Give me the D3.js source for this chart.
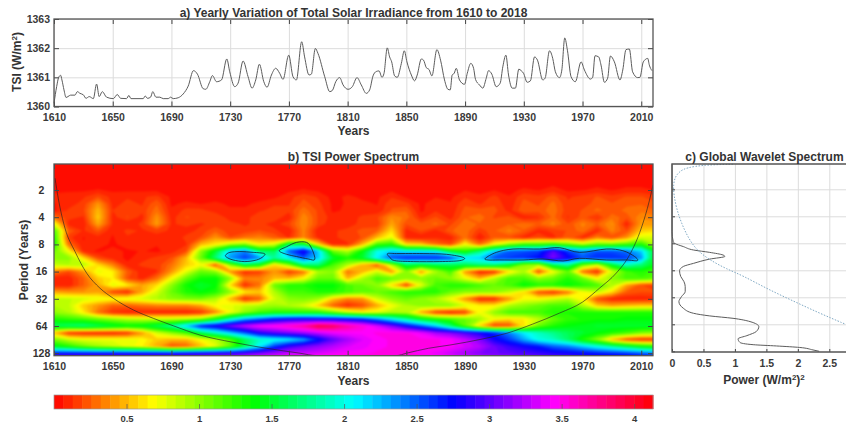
<!DOCTYPE html>
<html>
<head>
<meta charset="utf-8">
<script src="https://cdn.jsdelivr.net/npm/d3@7"></script>
<style>
body { margin: 0; background: #fff; }
text { font-family: "Liberation Sans", Arial, sans-serif; font-weight: bold; fill: #333; }
.tick text { font-size: 10.5px; fill: #3a3a3a; }
.axis .domain { display: none; }
</style>
</head>
<body>
<svg id="drawing_region"></svg>
<script>
// panel a: yearly TSI at its turning points
const tsiYears = [1610,1611.8,1613.2,1614.5,1615.4,1616.8,1618.2,1619.5,1621.3,1624.3,1625.9,1627.7,1630,1631.8,1634,1636.8,1639,1640.8,1642.9,1645.8,1650.4,1653.1,1655.4,1659.4,1661,1662.4,1670.8,1672.1,1673.7,1675.8,1677.3,1679.4,1682.1,1684.4,1687.8,1689.4,1691.2,1694.6,1698,1701.4,1705,1707.7,1711.6,1713.4,1716.1,1717.9,1720.7,1724.1,1727.7,1729.7,1733.1,1735.4,1738.8,1742.2,1744.9,1747.4,1749.9,1752.9,1755.1,1758.1,1761,1763.7,1766,1769.9,1772.8,1775.1,1778.7,1780.7,1783.7,1785.3,1788,1789.8,1794.4,1797.8,1799.6,1801.9,1804.6,1806.9,1810.3,1813.2,1816.4,1819.3,1822.7,1825,1827.3,1829.5,1831.4,1833.4,1834.8,1837,1838.6,1840,1842,1843.8,1846.6,1848.6,1850.4,1853.4,1855.6,1857.4,1860.2,1861.7,1863.6,1865.4,1867.4,1870.8,1873.3,1876,1878.3,1879.9,1881.2,1882.6,1884,1886.2,1889.6,1891.5,1893.9,1895.8,1897.1,1899.8,1902.1,1904.4,1906,1908.2,1911.2,1913.9,1915.7,1917.8,1919.6,1922.1,1924.3,1926.6,1928.2,1929.8,1932.3,1934.5,1937.3,1939.3,1942.9,1944.5,1947.5,1949.7,1951.5,1954.3,1955.9,1957.9,1959.7,1962.2,1965.1,1969,1971.3,1975.4,1976.9,1978.5,1981,1982.6,1984.9,1987.1,1989,1991.7,1995.5,1997.4,1999.6,2001.9,2004.1,2007.6,2009.1,2011.4,2014.4,2015.5,2017.3];
const tsiValues = [1360.11,1360.68,1361,1361.07,1360.91,1360.57,1360.31,1360.34,1360.39,1360.39,1360.51,1360.45,1360.4,1360.28,1360.34,1360.27,1360.77,1360.34,1360.51,1360.32,1360.27,1360.41,1360.28,1360.27,1360.38,1360.27,1360.27,1360.36,1360.28,1360.32,1360.51,1360.32,1360.32,1360.27,1360.27,1360.32,1360.27,1360.3,1360.43,1360.7,1361.23,1361.11,1360.61,1360.59,1360.85,1361.06,1360.85,1360.91,1361.63,1361.19,1360.68,1360.8,1361.56,1361.02,1360.63,1360.91,1361.45,1360.85,1360.66,1361.08,1361.31,1361.14,1360.93,1361.76,1361.02,1360.91,1362.22,1361.7,1361.08,1361.11,1361.99,1361.82,1361.02,1360.51,1360.55,1360.85,1360.99,1360.74,1360.59,1360.68,1360.99,1360.74,1360.45,1360.57,1361.05,1361.2,1361.22,1361,1361.14,1362.01,1361.7,1361.53,1361.05,1361,1361.48,1361.91,1361.53,1361.08,1360.88,1361.08,1361.63,1361.59,1361.33,1361.27,1361.05,1361.95,1361.59,1360.91,1360.59,1360.57,1361.08,1361.14,1361.31,1360.91,1360.76,1361.14,1361.48,1361.31,1360.93,1360.74,1360.63,1360.97,1361.23,1361.11,1360.68,1360.8,1361.36,1361.76,1361.08,1360.63,1360.63,1361.28,1361.23,1361.14,1360.83,1360.88,1361.7,1361.59,1360.91,1360.97,1361.91,1361.65,1361.19,1360.99,1361.25,1362.35,1361.93,1361.02,1360.85,1361.53,1361.25,1360.94,1361,1361.74,1361.7,1361.42,1360.83,1360.97,1361.73,1361.53,1360.91,1361.25,1361.95,1361.97,1361.19,1360.99,1361,1361.53,1361.65,1361.42,1361.23];

const yearTicks = [1610,1650,1690,1730,1770,1810,1850,1890,1930,1970,2010];
const tsiTicks = [1360,1361,1362,1363];
const periodTicks = [2,4,8,16,32,64,128];
const powerTicks = [0,0.5,1,1.5,2,2.5];
const colorTicks = [0.5,1,1.5,2,2.5,3,3.5,4];

const gridYears = [1610,1620,1630,1640,1650,1660,1670,1680,1690,1700,1710,1720,1730,1740,1750,1760,1770,1780,1790,1800,1810,1820,1830,1840,1850,1860,1870,1880,1890,1900,1910,1920,1930,1940,1950,1960,1970,1980,1990,2000,2010,2020];
const gridExps = [0,0.25,0.5,0.75,1,1.25,1.5,1.75,2,2.25,2.5,2.75,3,3.25,3.5,3.75,4,4.25,4.5,4.75,5,5.25,5.5,5.75,6,6.25,6.5,6.75,7,7.25];
const gridPower = [
 [.03,.03,.03,.03,.03,.03,.03,.03,.03,.03, .03,.03,.03,.03,.03,.03,.03,.03,.03,.03, .03,.03,.03,.03,.03,.03,.03,.03,.03,.03, .03,.03,.03,.03,.03,.03,.03,.03,.03,.03, .03,.03],
 [.03,.03,.03,.03,.03,.03,.03,.03,.03,.03, .03,.03,.03,.03,.03,.03,.03,.03,.03,.03, .03,.03,.03,.03,.03,.03,.03,.03,.03,.03, .03,.03,.03,.03,.03,.03,.03,.03,.03,.03, .03,.03],
 [.03,.03,.03,.03,.03,.03,.03,.03,.03,.03, .03,.03,.03,.03,.03,.03,.03,.03,.03,.03, .03,.03,.03,.03,.03,.03,.03,.03,.03,.03, .03,.03,.03,.03,.03,.03,.03,.03,.03,.03, .03,.03],
 [.03,.03,.03,.03,.03,.03,.03,.03,.03,.03, .03,.03,.03,.03,.03,.03,.03,.03,.03,.03, .03,.03,.03,.03,.03,.03,.03,.03,.03,.03, .03,.03,.03,.03,.04,.03,.03,.04,.03,.04, .04,.03],
 [.05,.05,.05,.07,.05,.05,.05,.05,.03,.03, .03,.03,.03,.03,.03,.03,.05,.07,.05,.03, .03,.03,.03,.05,.03,.03,.03,.03,.06,.04, .06,.04,.08,.06,.1,.05,.06,.08,.06,.08, .08,.06],
 [.08,.1,.12,.2,.1,.12,.12,.15,.05,.03, .03,.03,.03,.03,.03,.05,.1,.18,.12,.04, .08,.05,.05,.12,.05,.03,.06,.05,.12,.08, .15,.07,.18,.15,.22,.12,.15,.2,.15,.2, .2,.15],
 [.06,.1,.15,.4,.1,.15,.12,.25,.05,.08, .06,.08,.05,.05,.08,.12,.12,.22,.15,.05, .07,.08,.06,.18,.15,.05,.1,.07,.18,.12, .18,.08,.22,.18,.28,.14,.16,.22,.2,.24, .25,.2],
 [.05,.14,.18,.5,.13,.18,.15,.3,.08,.15, .15,.1,.08,.08,.12,.15,.15,.3,.18,.05, .08,.1,.08,.2,.25,.05,.12,.08,.22,.22, .22,.1,.25,.22,.3,.15,.2,.28,.22,.28, .3,.25],
 [.3,.15,.12,.55,.1,.2,.1,.4,.1,.2, .18,.18,.1,.1,.18,.18,.08,.38,.18,.1, .1,.14,.18,.38,.3,.1,.2,.1,.25,.3, .18,.22,.08,.12,.28,.12,.22,.12,.3,.22, .38,.35],
 [.75,.1,.07,.45,.12,.07,.15,.42,.12,.15, .12,.15,.15,.12,.15,.1,.18,.38,.18,.07, .1,.15,.14,.45,.2,.22,.28,.18,.3,.25, .25,.25,.3,.25,.35,.2,.35,.25,.4,.08, .42,.4],
 [1.2,.25,.12,.22,.07,.15,.12,.15,.12,.1, .15,.25,.15,.15,.2,.15,.07,.35,.07,.12, .15,.22,.25,.6,.1,.2,.1,.25,.3,.15, .25,.35,.25,.1,.15,.2,.3,.1,.35,.2, .55,.6],
 [1.3,.15,.06,.1,.06,.12,.12,.1,.07,.15, .2,.4,.2,.3,.35,.25,.12,.35,.1,.12, .15,.2,.5,.75,.1,.06,.12,.08,.3,.05, .25,.2,.1,.2,.1,.25,.1,.35,.2,.4, .8,.8],
 [1.35,.3,.07,.1,.05,.1,.12,.07,.1,.12, .5,.65,.9,1,.65,.8,1.6,1.5,.6,.12, .12,.5,1.2,1.3,.6,.55,.3,.2,.7,.3, .7,1,1.2,1.2,1.3,1.1,.9,1.1,1.1,1.2, 1.3,.9],
 [1.1,.7,.1,.05,.1,.05,.07,.05,.1,.2, 1,1.5,2.2,2.4,1.7,1.6,2.5,2.85,2.2,1.1, .9,1.4,2,2.2,2.1,2.1,2.05,1.5,1.3,1.7, 2.2,2.5,2.55,2.6,3,2.6,2.35,2.55,2.55,2.45, 2.2,1.4],
 [1,1,.6,.2,.1,.05,.1,.15,.2,.5, 1.1,1.7,2.35,2.6,2.35,1.8,2.1,2.5,2.2,1.5, 1.3,1.5,2.1,2.55,2.65,2.65,2.65,2.55,2.15,2.2, 2.55,2.6,2.65,2.75,3.1,2.8,2.55,2.65,2.65,2.6, 2.35,1.3],
 [.85,.9,.9,.6,.35,.08,.15,.15,.3,.55, .7,.2,1,1.6,1.4,.6,1,1.7,1.7,1.2, .9,.5,.2,.9,1.6,1.5,1.6,1.6,1.6,1.7, 1.7,1.5,1,.9,1.6,1.8,1.1,.8,1.5,1.9, 1.7,1.4],
 [.35,.2,.4,.75,.65,.25,.08,.12,.4,.75, 1.1,1,.4,.1,.15,.4,.15,.3,.9,1, .3,.5,.8,.4,1,.4,.9,1.2,.4,.07, .1,.6,.9,.2,.7,1.1,.3,.1,.8,1.2, 1.3,1.2],
 [.07,.08,.25,.55,.65,.2,.1,.3,.7,1.1, 1.35,1.4,1,.35,.35,.5,.5,.7,1.1,1.1, .5,.9,1.2,1.1,1,1,1.1,1,.75,.5, .9,1.2,1.2,1,1.1,1.3,1.1,.7,1,1.2, 1.2,1.1],
 [.08,.08,.25,.45,.75,.65,.45,.6,1,1.35, 1.5,1.4,.6,.1,.3,1.1,1.3,1.3,1.4,1.4, 1.2,1.1,1,.6,.15,.75,1.2,1.3,1.3,1.2, 1.1,1.2,1.4,1.3,1.3,1.4,1.3,1.2,.9,.45, .2,.15],
 [.45,.4,.4,.45,.18,.1,.45,.8,1.1,1.3, 1.4,1.3,1,.65,.55,.9,1.2,1.2,1.3,1.3, 1.2,1.1,1.1,1.2,1.3,1.3,1.3,1.1,1,1, 1,.85,.6,.2,.12,.3,.7,.85,.6,.25, .2,.2],
 [.85,.85,.8,.75,.7,.75,.8,.9,1,1.05, 1.05,.9,.5,.1,.25,.8,1,1.05,.95,.55, .35,.4,.8,1,1.1,1,.9,.7,.4,.08, .1,.4,.7,.7,.8,.9,.65,.2,.08,.07, .07,.1],
 [.9,.85,.55,.4,.25,.25,.3,.35,.35,.35, .45,.7,.75,.85,.9,.95,.9,.8,.55,.25, .1,.2,.45,.7,.9,1,1,1,.8,.65, .65,.9,1,1.1,1.2,1.2,.9,.55,.45,.5, .55,.55],
 [1,.9,.65,.3,.12,.08,.08,.07,.07,.07, .12,.35,.7,1,1.2,1.3,1.3,1.3,1.3,1.1, .85,.7,.75,.9,.9,.45,.15,.07,.15,.7, 1,1.2,1.2,1.2,1.3,1.3,1.3,1.3,1.3,1.3, 1.3,1.3],
 [1.3,1.25,1.2,1.1,1,.9,.85,.85,.85,.9, 1,1.4,1.9,2.3,2.5,2.7,2.8,2.85,2.8,2.8, 2.75,2.65,2.4,2.1,1.8,1.5,1.3,1.2,1.1,.95, .7,.6,.65,.85,1.1,1.25,1.3,1.35,1.35,1.4, 1.4,1.4],
 [1.6,1.65,1.7,1.6,1.5,1.4,1.45,1.6,1.8,2.2, 2.7,2.85,3.1,3.3,3.45,3.5,3.6,3.7,3.98,3.9, 3.7,3.55,3.35,3.1,2.8,2.5,2.2,1.7,1.15,.55, .12,.18,.6,1.1,1.3,1.4,1.45,1.5,1.5,1.5, 1.5,1.5],
 [.5,.12,.08,.07,.07,.12,.4,.8,1,1.2, 1.6,1.9,2.2,2.5,2.85,3,3.1,3.2,3.3,3.4, 3.45,3.45,3.5,3.5,3.5,3.4,3.2,3.1,2.95,2.8, 2.65,2.4,2.1,1.9,1.75,1.6,1.5,1.4,1.3,1.2, 1.05,1],
 [1.05,.85,.75,.75,.75,.75,.7,.55,.5,.5, .7,.85,1.15,1.6,1.9,2,2.1,2.3,2.7,3, 3.2,3.35,3.45,3.5,3.5,3.5,3.5,3.45,3.3,3.1, 2.8,2.6,2.3,2,1.9,1.65,1.3,1,.5,.2, .1,.1],
 [1.45,1.3,1.1,.95,.85,.75,.65,.45,.2,.25, .5,.75,1.1,1.6,2.1,2.6,2.9,3.05,3.15,3.25, 3.35,3.4,3.45,3.5,3.5,3.5,3.5,3.45,3.35,3.25, 3.05,2.9,2.8,2.7,2.5,2.4,2.2,2,1.8,1.6, 1.4,1.3],
 [2.7,2.7,2.7,2.7,2.7,2.7,2.7,2.7,2.7,2.75, 2.8,2.85,2.9,3,3.1,3.2,3.3,3.3,3.35,3.4, 3.45,3.45,3.5,3.5,3.5,3.45,3.4,3.3,3.2,3.1, 3.05,3,2.95,2.9,2.85,2.8,2.75,2.7,2.65,2.6, 2.5,2.4],
 [3.4,3.4,3.4,3.4,3.4,3.4,3.4,3.4,3.4,3.4, 3.4,3.4,3.4,3.45,3.5,3.5,3.5,3.5,3.6,3.6, 3.6,3.6,3.6,3.6,3.6,3.6,3.5,3.5,3.4,3.4, 3.3,3.3,3.2,3.2,3.1,3.1,3,3,3,3, 3,3]
];

// significance contours around the ridge: [year, period] outlines
const sigBlobA = [[1726.9,10.5],[1729.8,9.8],[1736.6,9.6],[1745.7,9.8],[1753.2,10.1],[1752.5,10.9],[1748,11.9],[1740,12.4],[1732,11.9],[1727.6,11.1]];
const sigBlobB = [[1763.4,9.4],[1768.4,8.5],[1775.2,7.6],[1782,7.6],[1785.4,8.8],[1787.7,11.7],[1783.1,11.6],[1775.2,10.9],[1768.4,10.3]];
const sigBlobC = [[1837.2,10.1],[1843.3,10.1],[1861.4,10.1],[1877.3,10.3],[1889.1,11.2],[1886.4,12.1],[1872.8,12.4],[1854.7,12.4],[1842.1,12.1],[1838.7,11.1]];
const sigBlobD = [[1903.8,11.4],[1911.3,9.8],[1922.7,9],[1940.8,9],[1954.4,8.7],[1968,9.8],[1986.2,9],[1997.5,9.4],[2005.5,10.9],[2007.3,12.1],[1999.8,11.9],[1986.2,11.9],[1968,11.4],[1956.7,12.2],[1943,11.6],[1929.5,11.9],[1913.6,11.9],[1905.6,11.9]];

// cone of influence
const coiYears = [1610.7,1612.9,1617.5,1624.3,1632.3,1641.3,1650.4,1664,1677.6,1691.2,1709.4,1732,1754.8,1777.5,1788.8,1843.3,1850.1,1865,1879.6,1902,1918.4,1936,1954.4,1970,1981.7,1993,2002,2010,2015.6,2018];
const coiPeriods = [1.48,2.47,5.3,9.6,16.7,24.4,31.6,42.5,52.6,63.6,80.6,97,113,128,136,136,128,113,104,89,77,61,46,34.8,24.3,16.6,10.5,5.3,2.6,1.76];

// panel c: global wavelet spectrum and its significance level
const gwsPeriods = [1.04,3.87,5.94,7.68,8,8.7,9.5,10.1,10.8,11.2,12,13.4,14.5,16.2,18.8,21.4,24.3,27.6,31.5,35.8,42.4,48.2,51.6,54.9,59.7,68,77,85.6,93,102,108,111.6,116,123.6,128];
const gwsPower = [0,0,0,.02,.04,.18,.34,.6,.81,.84,.6,.34,.18,.12,.14,.19,.21,.21,.15,.11,.18,.34,.6,.97,1.24,1.38,1.34,1.19,1.05,1.08,1.29,1.66,2.03,2.24,2.34];
const sigPeriods = [1.05,1.07,1.15,1.25,1.44,1.79,2.31,3.25,4.79,7,9.5,12.3,15.5,18.4,25.5,35.3,48.3,64];
const sigPower = [.97,.5,.23,.13,.05,.02,.03,.07,.15,.26,.39,.6,.87,1.13,1.5,1.93,2.35,2.76];

const width = 846, height = 428;
const nColors = 64;
const colorMax = 4.13;

const svg = d3.select('#drawing_region').attr('width', width).attr('height', height);

const xa = d3.scaleLinear().domain([1610, 2018]).range([54, 653]);
const ya = d3.scaleLinear().domain([1360, 1363]).range([106.5, 19]);
const pb = d3.scaleLog().base(2).domain([2, 128]).range([190, 353.2]);
const xc = d3.scaleLinear().domain([0, 2.5]).range([672, 829.3]);
const pc = d3.scaleLog().base(2).domain([2, 128]).range([189.3, 351.3]);
const hue = d3.scaleLinear().domain([0, colorMax]).range([0, 360]);
const level = v => Math.min(nColors - 1, Math.floor(v / colorMax * nColors));
const colorOf = v => d3.hsl(hue((level(v) + 0.5) * colorMax / nColors), 1, 0.5).formatHex();

function clip(id, x, y, w, h) {
    svg.append('clipPath').attr('id', id).append('rect')
        .attr('x', x).attr('y', y).attr('width', w).attr('height', h);
}

function addTitle(x, y, txt) {
    svg.append('text').attr('x', x).attr('y', y).attr('text-anchor', 'middle')
        .style('font-size', '12px').text(txt);
}

function frame(x0, y0, x1, y1) {
    svg.append('rect').attr('x', x0).attr('y', y0)
        .attr('width', x1 - x0).attr('height', y1 - y0)
        .attr('fill', 'none').attr('stroke', '#555').attr('stroke-width', 1.3);
}

function xAxes(scale, ticks, y0, y1, grid, fmt) {
    if (grid) {
        svg.append('g').attr('class', 'axis').attr('transform', `translate(0,${y1})`)
            .call(d3.axisBottom(scale).tickValues(ticks).tickSize(-(y1 - y0)).tickFormat(''))
            .selectAll('line').attr('stroke', grid);
    }
    svg.append('g').attr('class', 'axis').attr('transform', `translate(0,${y1})`)
        .call(d3.axisBottom(scale).tickValues(ticks).tickSizeInner(-5).tickSizeOuter(0).tickPadding(7).tickFormat(fmt))
        .selectAll('line').attr('stroke', '#444');
    svg.append('g').attr('class', 'axis').attr('transform', `translate(0,${y0})`)
        .call(d3.axisTop(scale).tickValues(ticks).tickSizeInner(-5).tickSizeOuter(0).tickFormat(''))
        .selectAll('line').attr('stroke', '#444');
}

// ---- panel a ----
xAxes(xa, yearTicks, 19, 106.5, '#dcdcdc', d3.format('d'));
svg.append('g').attr('class', 'axis').attr('transform', 'translate(54,0)')
    .call(d3.axisLeft(ya).tickValues(tsiTicks).tickSize(-599).tickFormat(''))
    .selectAll('line').attr('stroke', '#dcdcdc');
svg.append('g').attr('class', 'axis').attr('transform', 'translate(54,0)')
    .call(d3.axisLeft(ya).tickValues(tsiTicks).tickSizeInner(-5).tickSizeOuter(0).tickPadding(4).tickFormat(d3.format('d')))
    .selectAll('line').attr('stroke', '#444');
svg.append('g').attr('class', 'axis').attr('transform', 'translate(653,0)')
    .call(d3.axisRight(ya).tickValues(tsiTicks).tickSizeInner(-5).tickSizeOuter(0).tickFormat(''))
    .selectAll('line').attr('stroke', '#444');

const tsiLine = d3.line()
    .x((d, i) => xa(tsiYears[i]))
    .y(d => ya(d))
    .curve(d3.curveMonotoneX);
svg.append('path').datum(tsiValues)
    .attr('fill', 'none').attr('stroke', '#5c5c5c').attr('stroke-width', 1)
    .attr('d', tsiLine);
frame(54, 19, 653, 106.5);

addTitle(353.5, 16.5, 'a) Yearly Variation of Total Solar Irradiance from 1610 to 2018');
svg.append('text').attr('x', 353.5).attr('y', 134.5).attr('text-anchor', 'middle')
    .style('font-size', '12px').text('Years');
const tsiLabel = svg.append('text').attr('transform', 'translate(21,62) rotate(-90)')
    .attr('text-anchor', 'middle').style('font-size', '12px');
tsiLabel.append('tspan').text('TSI (W/m');
tsiLabel.append('tspan').attr('dy', -4).style('font-size', '8px').text('2');
tsiLabel.append('tspan').attr('dy', 4).text(')');

// ---- panel b ----
clip('clip_b', 54, 164, 599, 191.7);
const heat = svg.append('g').attr('clip-path', 'url(#clip_b)');
const heatInner = heat.append('g').style('filter', 'blur(0.8px)');

const nCols = gridYears.length, nRows = gridExps.length;
const yearStep = gridYears[1] - gridYears[0];
const expStep = gridExps[1] - gridExps[0];
const project = d3.geoTransform({
    point: function(x, y) {
        const year = gridYears[0] + (x - 0.5) * yearStep;
        const period = Math.pow(2, gridExps[0] + (y - 0.5) * expStep);
        this.stream.point(xa(year), pb(period));
    }
});
const gridPath = d3.geoPath(project);
const thresholds = d3.range(nColors).map(i => i * colorMax / nColors);

heatInner.append('rect').attr('x', 50).attr('y', 160).attr('width', 610).attr('height', 200)
    .attr('fill', colorOf(0));
heatInner.selectAll('path')
    .data(d3.contours().size([nCols, nRows]).thresholds(thresholds)(gridPower.flat()))
    .enter()
    .append('path')
    .attr('d', gridPath)
    .attr('fill', d => colorOf(d.value + 0.001));

const blobLine = d3.line()
    .x(d => xa(d[0]))
    .y(d => pb(d[1]))
    .curve(d3.curveCardinalClosed);
heat.selectAll('path.sig')
    .data([sigBlobA, sigBlobB, sigBlobC, sigBlobD])
    .enter()
    .append('path')
    .attr('class', 'sig')
    .attr('d', blobLine)
    .attr('fill', 'none').attr('stroke', '#123').attr('stroke-width', 0.8);

// cone of influence
const coiLine = d3.line()
    .x((d, i) => xa(coiYears[i]))
    .y(d => pb(d))
    .curve(d3.curveMonotoneX);
heat.append('path').datum(coiPeriods)
    .attr('fill', 'none').attr('stroke', '#222').attr('stroke-width', 0.8)
    .attr('opacity', 0.8)
    .attr('d', coiLine);

xAxes(xa, yearTicks, 164, 355.7, null, d3.format('d'));
svg.append('g').attr('class', 'axis').attr('transform', 'translate(54,0)')
    .call(d3.axisLeft(pb).tickValues(periodTicks).tickSizeInner(-5).tickSizeOuter(0).tickFormat(''))
    .selectAll('line').attr('stroke', '#444');
svg.append('g').attr('class', 'axis').attr('transform', 'translate(653,0)')
    .call(d3.axisRight(pb).tickValues(periodTicks).tickSizeInner(-5).tickSizeOuter(0).tickFormat(''))
    .selectAll('line').attr('stroke', '#444');
svg.selectAll('text.period')
    .data(periodTicks)
    .enter()
    .append('text')
    .attr('class', 'period')
    .attr('x', 41.5)
    .attr('y', d => pb(d) + 3.8)
    .attr('text-anchor', 'middle')
    .style('font-size', '10.5px')
    .text(d => d);
frame(54, 164, 653, 355.7);

addTitle(353.5, 161, 'b) TSI Power Spectrum');
svg.append('text').attr('x', 353.5).attr('y', 384.5).attr('text-anchor', 'middle')
    .style('font-size', '12px').text('Years');
svg.append('text').attr('transform', 'translate(27.5,260) rotate(-90)')
    .attr('text-anchor', 'middle').style('font-size', '12px').text('Period (Years)');

// ---- panel c ----
svg.append('g').attr('class', 'axis').attr('transform', 'translate(0,352)')
    .call(d3.axisBottom(xc).tickValues(powerTicks).tickSize(-188).tickFormat(''))
    .selectAll('line').attr('stroke', '#dcdcdc');
svg.append('g').attr('class', 'axis').attr('transform', 'translate(672,0)')
    .call(d3.axisLeft(pc).tickValues(periodTicks.slice(0, 6)).tickSize(-174).tickFormat(''))
    .selectAll('line').attr('stroke', '#dcdcdc');
svg.append('g').attr('class', 'axis').attr('transform', 'translate(0,352)')
    .call(d3.axisBottom(xc).tickValues(powerTicks).tickSizeInner(-3).tickSizeOuter(0).tickPadding(8).tickFormat(d3.format('~g')))
    .selectAll('line').attr('stroke', '#444');
svg.append('g').attr('class', 'axis').attr('transform', 'translate(672,0)')
    .call(d3.axisLeft(pc).tickValues(periodTicks).tickSizeInner(-3).tickSizeOuter(0).tickFormat(''))
    .selectAll('line').attr('stroke', '#444');

const gwsLine = d3.line()
    .x(d => xc(d))
    .y((d, i) => pc(gwsPeriods[i]))
    .curve(d3.curveMonotoneY);
svg.append('path').datum(gwsPower)
    .attr('fill', 'none').attr('stroke', '#5c5c5c').attr('stroke-width', 1)
    .attr('d', gwsLine);
const sigLine = d3.line()
    .x(d => xc(d))
    .y((d, i) => pc(sigPeriods[i]))
    .curve(d3.curveBasis);
svg.append('path').datum(sigPower)
    .attr('fill', 'none').attr('stroke', '#7fa9c4').attr('stroke-width', 1)
    .attr('stroke-dasharray', '1.5 1.5')
    .attr('d', sigLine);

svg.append('path').attr('d', 'M846,164H672V352H846')
    .attr('fill', 'none').attr('stroke', '#555').attr('stroke-width', 1.3);

addTitle(764.5, 161, 'c) Global Wavelet Spectrum');
const powerLabel = svg.append('text').attr('x', 764).attr('y', 384).attr('text-anchor', 'middle')
    .style('font-size', '12px');
powerLabel.append('tspan').text('Power (W/m');
powerLabel.append('tspan').attr('dy', -4).style('font-size', '8px').text('2');
powerLabel.append('tspan').attr('dy', 4).text(')');
powerLabel.append('tspan').attr('dy', -4).style('font-size', '8px').text('2');

// ---- colour bar ----
const xbar = d3.scaleLinear().domain([0, colorMax]).range([54, 653]);
svg.selectAll('rect.swatch')
    .data(d3.range(nColors))
    .enter()
    .append('rect')
    .attr('class', 'swatch')
    .attr('x', d => xbar(d * colorMax / nColors))
    .attr('y', 395)
    .attr('width', xbar(colorMax / nColors) - xbar(0) + 0.5)
    .attr('height', 14)
    .attr('fill', d => colorOf((d + 0.5) * colorMax / nColors));
svg.append('g').attr('class', 'axis').attr('transform', 'translate(0,409)')
    .call(d3.axisBottom(xbar).tickValues(colorTicks).tickSizeInner(-5).tickSizeOuter(0).tickPadding(6).tickFormat(d3.format('~g')))
    .call(g => g.selectAll('line').attr('stroke', '#555').attr('stroke-opacity', 0.7))
    .call(g => g.selectAll('text').style('font-size', '9.5px'));
svg.append('rect').attr('x', 54).attr('y', 395).attr('width', 599).attr('height', 14)
    .attr('fill', 'none').attr('stroke', '#999').attr('stroke-width', 0.7);
</script>
</body>
</html>
